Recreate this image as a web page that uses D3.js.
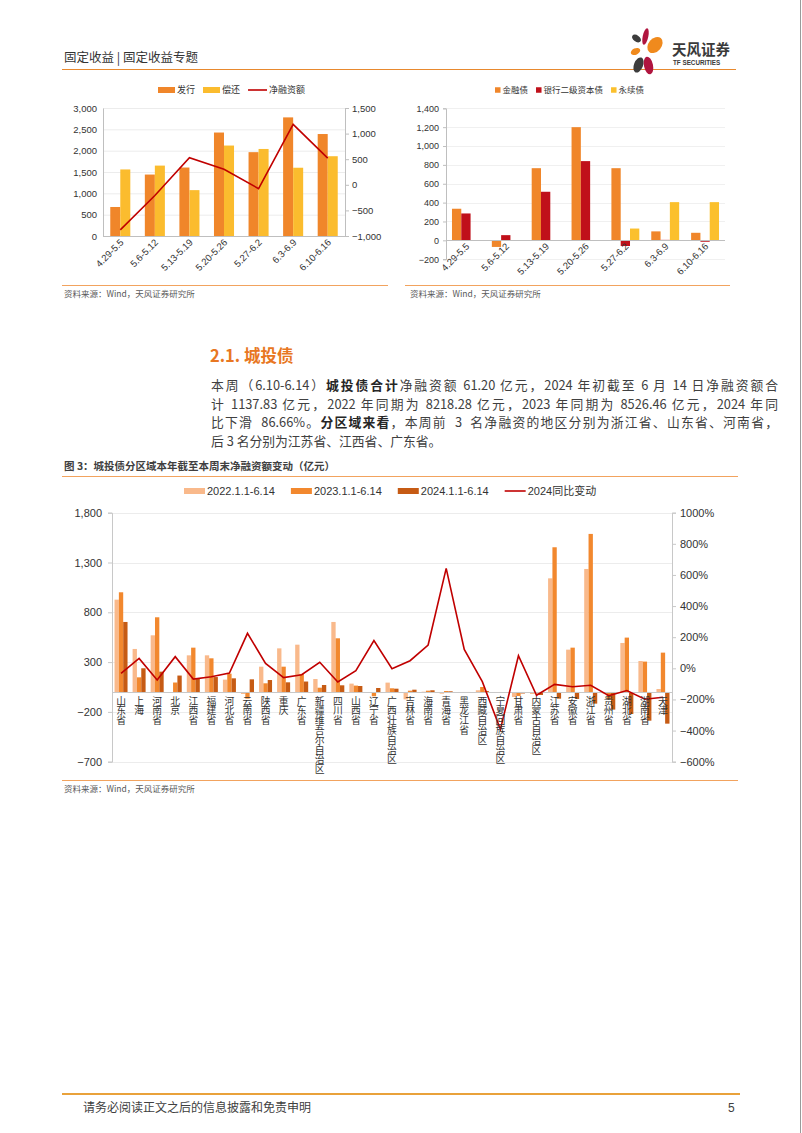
<!DOCTYPE html>
<html><head><meta charset="utf-8">
<script src="https://cdn.jsdelivr.net/npm/d3@7"></script>
<style>
body{margin:0;background:#fff;width:802px;height:1133px;overflow:hidden;position:relative;font-family:"Noto Sans CJK SC",sans-serif;}
svg{position:absolute;left:0;top:0;}
.para{position:absolute;left:211px;top:376px;width:567px;font-size:12.8px;line-height:18.5px;color:#404040;}
.para div.j{text-align:justify;text-align-last:justify;}
.para b{font-weight:bold;color:#262626;}
</style></head><body>
<svg id="page" width="802" height="1133"></svg>
<div class="para">
<div class="j">本周（6.10-6.14）<b>城投债合计</b>净融资额 61.20 亿元，2024 年初截至 6 月 14 日净融资额合</div>
<div class="j">计 1137.83 亿元，2022 年同期为 8218.28 亿元，2023 年同期为 8526.46 亿元，2024 年同</div>
<div class="j">比下滑 &nbsp;86.66%。<b>分区域来看</b>，本周前 &nbsp;3 &nbsp;名净融资的地区分别为浙江省、山东省、河南省，</div>
<div>后 3 名分别为江苏省、江西省、广东省。</div>
</div>
<script>
// ---------- data ----------
const weeks = ["4.29-5.5","5.6-5.12","5.13-5.19","5.20-5.26","5.27-6.2","6.3-6.9","6.10-6.16"];
const issue = [680,1440,1605,2425,1965,2780,2390];
const repay = [1560,1650,1075,2120,2040,1600,1870];
const netFin = [-880,-210,530,305,-75,1180,520];
const leftTicksA = [0,500,1000,1500,2000,2500,3000];
const rightTicksA = [-1000,-500,0,500,1000,1500];

const finBond = [335,-70,765,1200,765,95,80];
const tier2 = [285,55,515,840,-60,5,-15];
const perp = [0,0,0,0,125,405,405];
const ticksB = [-200,0,200,400,600,800,1000,1200,1400];

const regions = ["山东省","上海","河南省","北京","江西省","福建省","河北省","云南省","陕西省","重庆","广东省","新疆维吾尔自治区","四川省","山西省","辽宁省","广西壮族自治区","吉林省","海南省","青海省","黑龙江省","西藏自治区","宁夏回族自治区","甘肃省","内蒙古自治区","江苏省","安徽省","浙江省","贵州省","湖北省","湖南省","天津"];
const v2022 = [927,432,569,0,368,368,124,-20,254,438,475,130,703,84,-5,94,-74,3,-17,-7,17,-3,-50,-20,1141,425,1235,-15,492,311,30];
const v2023 = [1001,147,750,95,445,338,184,-67,87,254,181,43,539,64,-43,37,13,13,10,-5,50,-2,-40,-15,1453,445,1587,-77,546,305,395];
const v2024 = [703,238,204,165,134,150,137,127,120,97,105,70,67,60,40,33,23,17,7,-3,10,0,-15,-30,-67,-70,-117,-177,-221,-288,-318];
const yoy = [-32,64,-75,75,-69,-54,-30,225,32,-60,-41,39,-88,-15,178,-2,49,150,642,122,-86,-392,81,-173,-103,-118,-109,-176,-143,-199,-186];
const leftTicksC = [-700,-200,300,800,1300,1800];
const rightTicksC = [-600,-400,-200,0,200,400,600,800,1000];
const seriesC = ["2022.1.1-6.14","2023.1.1-6.14","2024.1.1-6.14"];

// ---------- page ----------
const svg = d3.select("#page");
const NUM = "'Liberation Sans', Arial, 'Noto Sans CJK SC', sans-serif";
const CJK = "'Noto Sans CJK SC', sans-serif";
const fmt = d3.format(",");

svg.append("line").attr("x1",800.5).attr("x2",800.5).attr("y1",0).attr("y2",1133).attr("stroke","#9a9a9a").attr("stroke-width",1);

// header
svg.append("text").attr("x",64).attr("y",62).attr("font-family",CJK).attr("font-size",12.5).attr("fill","#333").text("固定收益 | 固定收益专题");
svg.append("line").attr("x1",62).attr("x2",736).attr("y1",69.5).attr("y2",69.5).attr("stroke","#E8892E").attr("stroke-width",1.2);
const logo = svg.append("g");
const petals = [
  [636.5,38.5,5,3.2,35,"#3d3d3d"],
  [645.5,36.5,2.8,8.5,12,"#B0153F"],
  [655,45,6.5,9,40,"#F08A1D"],
  [635.5,51.5,5,3.2,-25,"#F08A1D"],
  [638.5,65,4.5,8,22,"#3d3d3d"],
  [648.5,65.5,4.5,9,-12,"#B0153F"]
];
petals.forEach(p=>{
  logo.append("ellipse").attr("cx",0).attr("cy",0).attr("rx",p[2]).attr("ry",p[3]).attr("fill",p[5])
    .attr("transform",`translate(${p[0]},${p[1]}) rotate(${p[4]})`);
});
logo.append("text").attr("x",672).attr("y",55).attr("font-family",CJK).attr("font-size",14.5).attr("font-weight","bold").attr("fill","#3a3a3a").text("天风证券");
logo.append("text").attr("x",673).attr("y",65).attr("font-family",NUM).attr("font-size",6.3).attr("font-weight","bold").attr("fill","#3a3a3a").text("TF SECURITIES");

function legend(g, items, x0, yMid, fontSize, fam, gap){
  let x = x0;
  items.forEach(it=>{
    if(it.type==="rect") g.append("rect").attr("x",x).attr("y",yMid-it.h/2).attr("width",it.w).attr("height",it.h).attr("fill",it.color);
    else g.append("line").attr("x1",x).attr("x2",x+it.w).attr("y1",yMid).attr("y2",yMid).attr("stroke",it.color).attr("stroke-width",1.6);
    x += it.w + 2;
    const t = g.append("text").attr("x",x).attr("y",yMid+fontSize*0.36).attr("font-family",fam).attr("font-size",fontSize).attr("fill","#333").text(it.label);
    x += t.node().getComputedTextLength() + gap;
  });
}

// ---------- chart A (top left) ----------
const gA = svg.append("g");
const xA = d3.scaleBand().domain(weeks).range([103,345]).paddingInner(0.42).paddingOuter(0.21);
const xAin = d3.scaleBand().domain(["issue","repay"]).range([0,xA.bandwidth()]);
const yAL = d3.scaleLinear().domain([0,3000]).range([236,108]);
const yAR = d3.scaleLinear().domain([-1000,1500]).range([236,108]);
const colA = {issue:"#F0862A", repay:"#FBBC2E"};
gA.selectAll("line.grid").data(leftTicksA.slice(1)).join("line")
  .attr("x1",103).attr("x2",345).attr("y1",d=>yAL(d)+0.5).attr("y2",d=>yAL(d)+0.5).attr("stroke","#ececec");
weeks.forEach((w,i)=>{
  gA.append("rect").attr("x",xA(w)+xAin("issue")).attr("width",xAin.bandwidth()).attr("y",yAL(issue[i])).attr("height",yAL(0)-yAL(issue[i])).attr("fill",colA.issue);
  gA.append("rect").attr("x",xA(w)+xAin("repay")).attr("width",xAin.bandwidth()).attr("y",yAL(repay[i])).attr("height",yAL(0)-yAL(repay[i])).attr("fill",colA.repay);
});
const axAL = gA.append("g").attr("transform","translate(103,0)").call(d3.axisLeft(yAL).tickValues(leftTicksA).tickFormat(fmt).tickSize(0).tickPadding(6));
const axAR = gA.append("g").attr("transform","translate(345,0)").call(d3.axisRight(yAR).tickValues(rightTicksA).tickFormat(fmt).tickSize(4).tickPadding(3));
[axAL,axAR].forEach(a=>{a.select(".domain").attr("stroke","#bfbfbf");a.selectAll(".tick line").attr("stroke","#bfbfbf");a.selectAll("text").attr("font-family",NUM).attr("font-size",9.5).attr("fill","#333");});
gA.append("line").attr("x1",103).attr("x2",345).attr("y1",236.5).attr("y2",236.5).attr("stroke","#bfbfbf");
const lineA = d3.line().x((d,i)=>xA(weeks[i])+xA.bandwidth()/2).y(d=>yAR(d));
gA.append("path").datum(netFin).attr("d",lineA).attr("fill","none").attr("stroke","#C00000").attr("stroke-width",1.6);
gA.selectAll("text.xl").data(weeks).join("text")
  .attr("transform",d=>`translate(${xA(d)+xA.bandwidth()/2+4},243) rotate(-45)`)
  .attr("text-anchor","end").attr("font-family",NUM).attr("font-size",9.5).attr("fill","#333").text(d=>d);
legend(gA, [
  {label:"发行",type:"rect",color:colA.issue,w:17,h:6},
  {label:"偿还",type:"rect",color:colA.repay,w:17,h:6},
  {label:"净融资额",type:"line",color:"#C00000",w:19}
], 158, 90, 9, CJK, 8);
svg.append("line").attr("x1",62).attr("x2",388).attr("y1",285.5).attr("y2",285.5).attr("stroke","#F2A35E").attr("stroke-width",1);
svg.append("text").attr("x",64).attr("y",297).attr("font-family",CJK).attr("font-size",8.5).attr("fill","#595959").text("资料来源：Wind，天风证券研究所");

// ---------- chart B (top right) ----------
const gB = svg.append("g");
const xB = d3.scaleBand().domain(weeks).range([446,725]).paddingInner(0.3).paddingOuter(0.15);
const keysB = ["fin","tier2","perp"];
const xBin = d3.scaleBand().domain(keysB).range([0,xB.bandwidth()]);
const yB = d3.scaleLinear().domain([-200,1400]).range([259.2,108.3]);
const colB = {fin:"#F0862A", tier2:"#C0101A", perp:"#FBC02D"};
const dataB = {fin:finBond, tier2:tier2, perp:perp};
gB.selectAll("line.grid").data(ticksB.filter(t=>t!==0)).join("line")
  .attr("x1",446).attr("x2",725).attr("y1",d=>Math.round(yB(d))+0.5).attr("y2",d=>Math.round(yB(d))+0.5).attr("stroke","#f0f0f0");
weeks.forEach((w,i)=>{
  keysB.forEach(k=>{
    const v = dataB[k][i];
    if(v===0) return;
    gB.append("rect").attr("x",xB(w)+xBin(k)).attr("width",xBin.bandwidth())
      .attr("y",yB(Math.max(0,v))).attr("height",Math.abs(yB(v)-yB(0))).attr("fill",colB[k]);
  });
});
const axB = gB.append("g").attr("transform","translate(446,0)").call(d3.axisLeft(yB).tickValues(ticksB).tickFormat(fmt).tickSize(3).tickPadding(4));
axB.select(".domain").attr("stroke","#bfbfbf");axB.selectAll(".tick line").attr("stroke","#bfbfbf");
axB.selectAll("text").attr("font-family",NUM).attr("font-size",9).attr("fill","#333");
gB.append("line").attr("x1",446).attr("x2",725).attr("y1",Math.round(yB(0))+0.5).attr("y2",Math.round(yB(0))+0.5).attr("stroke","#bfbfbf");
gB.selectAll("text.xl").data(weeks).join("text")
  .attr("transform",d=>`translate(${xB(d)+xB.bandwidth()/2+4},247) rotate(-45)`)
  .attr("text-anchor","end").attr("font-family",NUM).attr("font-size",9.5).attr("fill","#333").text(d=>d);
legend(gB, [
  {label:"金融债",type:"rect",color:colB.fin,w:5.5,h:5.5},
  {label:"银行二级资本债",type:"rect",color:colB.tier2,w:5.5,h:5.5},
  {label:"永续债",type:"rect",color:colB.perp,w:5.5,h:5.5}
], 495, 90, 8.5, CJK, 8);
svg.append("line").attr("x1",405).attr("x2",730).attr("y1",285.5).attr("y2",285.5).attr("stroke","#F2A35E").attr("stroke-width",1);
svg.append("text").attr("x",410).attr("y",297).attr("font-family",CJK).attr("font-size",8.5).attr("fill","#595959").text("资料来源：Wind，天风证券研究所");

// ---------- section heading ----------
svg.append("text").attr("x",210).attr("y",362).attr("font-family",CJK).attr("font-size",16.5).attr("font-weight","bold").attr("fill","#E87722").text("2.1. 城投债");

// ---------- chart C ----------
svg.append("text").attr("x",64).attr("y",470).attr("font-family",CJK).attr("font-size",10.5).attr("font-weight","bold").attr("fill","#404040").text("图 3：城投债分区域本年截至本周末净融资额变动（亿元）");
svg.append("line").attr("x1",62).attr("x2",738).attr("y1",476.5).attr("y2",476.5).attr("stroke","#F2A35E").attr("stroke-width",1);

const gC = svg.append("g");
const xC = d3.scaleBand().domain(regions).range([112,672]).paddingInner(0.28).paddingOuter(0.14);
const xCin = d3.scaleBand().domain(seriesC).range([0,xC.bandwidth()]);
const yCL = d3.scaleLinear().domain([-700,1800]).range([761.7,512.7]);
const yCR = d3.scaleLinear().domain([-600,1000]).range([761.7,512.7]);
const colC = ["#F9B98B","#F2882E","#C65B14"];
const valsC = [v2022,v2023,v2024];
gC.selectAll("line.grid").data(leftTicksC).join("line")
  .attr("x1",112).attr("x2",672).attr("y1",d=>Math.round(yCL(d))+0.5).attr("y2",d=>Math.round(yCL(d))+0.5).attr("stroke","#ececec");
regions.forEach((r,i)=>{
  seriesC.forEach((s,j)=>{
    const v = valsC[j][i];
    if(v===0) return;
    gC.append("rect").attr("x",xC(r)+xCin(s)).attr("width",xCin.bandwidth())
      .attr("y",yCL(Math.max(0,v))).attr("height",Math.abs(yCL(v)-yCL(0))).attr("fill",colC[j]);
  });
});
gC.append("line").attr("x1",112).attr("x2",672).attr("y1",Math.round(yCL(0))+0.5).attr("y2",Math.round(yCL(0))+0.5).attr("stroke","#c8c8c8");
const axCL = gC.append("g").attr("transform","translate(112,0)").call(d3.axisLeft(yCL).tickValues(leftTicksC).tickFormat(fmt).tickSize(4).tickPadding(6));
const axCR = gC.append("g").attr("transform","translate(672,0)").call(d3.axisRight(yCR).tickValues(rightTicksC).tickFormat(d=>(d<0?"−":"")+Math.abs(d)+"%").tickSize(4).tickPadding(4));
[axCL,axCR].forEach(a=>{a.select(".domain").attr("stroke","#c8c8c8");a.selectAll(".tick line").attr("stroke","#c8c8c8");a.selectAll("text").attr("font-family",NUM).attr("font-size",11).attr("fill","#333");});
const lineC = d3.line().x((d,i)=>xC(regions[i])+xC.bandwidth()/2).y(d=>yCR(d));
gC.append("path").datum(yoy).attr("d",lineC).attr("fill","none").attr("stroke","#C00000").attr("stroke-width",1.6);
gC.selectAll("text.xl").data(regions).join("text")
  .attr("class","xl")
  .attr("x",d=>xC(d)+xC.bandwidth()/2).attr("y",696)
  .style("writing-mode","vertical-rl").style("text-orientation","upright")
  .attr("font-family",CJK).attr("font-size",9.8).attr("fill","#333").text(d=>d);
legend(gC, [
  {label:seriesC[0],type:"rect",color:colC[0],w:21,h:6},
  {label:seriesC[1],type:"rect",color:colC[1],w:21,h:6},
  {label:seriesC[2],type:"rect",color:colC[2],w:21,h:6},
  {label:"2024同比变动",type:"line",color:"#C00000",w:21}
], 184, 491, 11, NUM, 16);
svg.append("line").attr("x1",62).attr("x2",738).attr("y1",780.5).attr("y2",780.5).attr("stroke","#F2A35E").attr("stroke-width",1);
svg.append("text").attr("x",64).attr("y",792).attr("font-family",CJK).attr("font-size",8.5).attr("fill","#595959").text("资料来源：Wind，天风证券研究所");

// ---------- footer ----------
svg.append("line").attr("x1",62).attr("x2",740).attr("y1",1094).attr("y2",1094).attr("stroke","#E9A23B").attr("stroke-width",2.2);
svg.append("text").attr("x",83).attr("y",1112).attr("font-family",CJK).attr("font-size",12).attr("fill","#404040").text("请务必阅读正文之后的信息披露和免责申明");
svg.append("text").attr("x",728).attr("y",1112).attr("font-family",NUM).attr("font-size",12).attr("fill","#404040").text("5");
</script>
</body></html>
